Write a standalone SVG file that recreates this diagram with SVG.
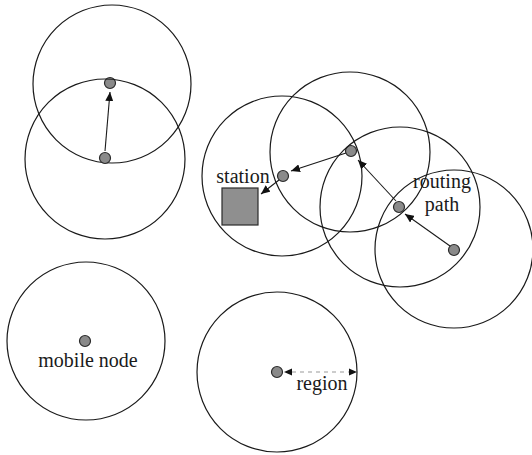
<svg xmlns="http://www.w3.org/2000/svg" width="532" height="455" viewBox="0 0 532 455">
<style>
.rg{fill:none;stroke:#1a1a1a;stroke-width:1.2}
.nd{fill:#8a8a8a;stroke:#2a2a2a;stroke-width:1.2}
.ar{fill:none;stroke:#1a1a1a;stroke-width:1.1}
.dash{fill:none;stroke:#999;stroke-width:1;stroke-dasharray:4 4}
text{font-family:"Liberation Serif","Times New Roman",serif;font-size:20px;fill:#1a1a1a}
</style>
<defs>
<marker id="ah" markerUnits="userSpaceOnUse" markerWidth="10" markerHeight="8" refX="9" refY="4" orient="auto">
<path d="M0,0 L9,4 L0,8 Z" fill="#111"/>
</marker>
</defs>
<rect width="532" height="455" fill="#fff"/>
<g id="n1"><circle class="rg" cx="112" cy="84" r="79"/><circle class="nd" cx="110" cy="83" r="5.5"/></g>
<g id="n2"><circle class="rg" cx="105" cy="159" r="80"/><circle class="nd" cx="105" cy="158" r="5.5"/></g>
<g id="n3"><circle class="rg" cx="282" cy="176" r="80"/><circle class="nd" cx="283" cy="176" r="5.5"/></g>
<g id="n4"><circle class="rg" cx="350" cy="152" r="80"/><circle class="nd" cx="351" cy="151" r="5.5"/></g>
<g id="n5"><circle class="rg" cx="400" cy="207" r="80"/><circle class="nd" cx="399" cy="207" r="5.5"/></g>
<g id="n6"><circle class="rg" cx="454" cy="249" r="79"/><circle class="nd" cx="454" cy="250" r="5.5"/></g>
<g id="n7"><circle class="rg" cx="86" cy="341" r="79"/><circle class="nd" cx="85" cy="341" r="5.5"/><text x="88" y="367" text-anchor="middle">mobile node</text></g>
<g id="n8"><circle class="rg" cx="277" cy="372" r="80"/><circle class="nd" cx="277" cy="372" r="5.5"/><text x="322" y="390" text-anchor="middle">region</text></g>
<g id="station"><rect x="222" y="188" width="36" height="37" fill="#8f8f8f" stroke="#2a2a2a" stroke-width="1.2"/><text x="243" y="183" text-anchor="middle">station</text></g>
<g id="label-routing"><text x="442" y="188" text-anchor="middle">routing</text><text x="442" y="211" text-anchor="middle">path</text></g>
<g id="connectors">
<line class="ar" x1="105" y1="151" x2="110" y2="92" marker-end="url(#ah)"/>
<line class="ar" x1="450" y1="246" x2="405" y2="214" marker-end="url(#ah)"/>
<line class="ar" x1="396" y1="201" x2="358" y2="160" marker-end="url(#ah)"/>
<line class="ar" x1="346" y1="153" x2="291" y2="171" marker-end="url(#ah)"/>
<line class="ar" x1="279" y1="180" x2="261" y2="194" marker-end="url(#ah)"/>
<line class="dash" x1="292" y1="372" x2="350" y2="372"/>
<path d="M284,372 L292,368.5 L292,375.5 Z" fill="#111"/>
<path d="M357,372 L349,368.5 L349,375.5 Z" fill="#111"/>
</g>
</svg>
